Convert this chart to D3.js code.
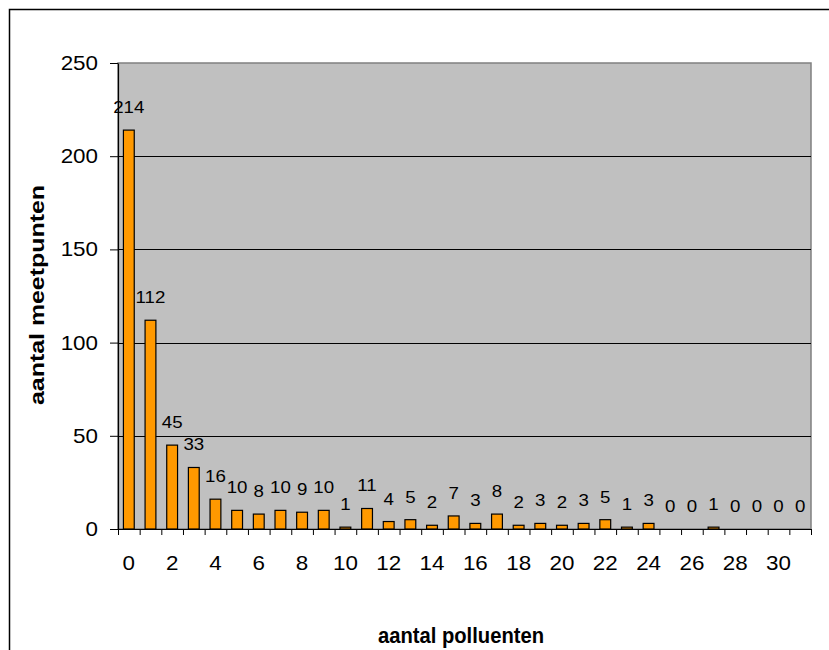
<!DOCTYPE html>
<html>
<head>
<meta charset="utf-8">
<script src="https://cdn.jsdelivr.net/npm/d3@7"></script>
<style>
  body { margin: 0; background: #fff; }
  text { font-family: "Liberation Sans", Arial, sans-serif; fill: #000; }
</style>
</head>
<body>
<svg width="829" height="650"></svg>
<script>
// aantal polluenten per meetpunt
var categories = d3.range(0, 32);
var values = [214, 112, 45, 33, 16, 10, 8, 10, 9, 10, 1, 11, 4, 5, 2, 7,
              3, 8, 2, 3, 2, 3, 5, 1, 3, 0, 0, 1, 0, 0, 0, 0];
var yTicks = [0, 50, 100, 150, 200, 250];
var xLabels = d3.range(0, 32, 2);

var data = categories.map(function(c, i) { return { cat: c, val: values[i] }; });

var svg = d3.select("svg");

// chart border (right and bottom run off the page)
svg.append("rect")
  .attr("x", 9.5).attr("y", 9.5)
  .attr("width", 840).attr("height", 660)
  .attr("fill", "#fff")
  .attr("stroke", "#000")
  .attr("stroke-width", 1.5);

var plotLeft = 118, plotTop = 63, width = 693, height = 466;

var xScale = d3.scaleBand().domain(categories).range([0, width])
  .paddingInner(0.5).paddingOuter(0.25);
var xLin = d3.scaleLinear().domain([0, 32]).range([0, width]);
var yScale = d3.scaleLinear().domain([0, 250]).range([height, 0]);

var g = svg.append("g").attr("transform", "translate(" + plotLeft + "," + plotTop + ")");

// plot area
g.append("rect")
  .attr("width", width).attr("height", height)
  .attr("fill", "#c0c0c0")
  .attr("stroke", "#808080")
  .attr("stroke-width", 1.5);

// gridlines
g.selectAll(".grid")
  .data(yTicks.filter(function(d) { return d > 0 && d < 250; }))
  .enter().append("line")
  .attr("x1", 0).attr("x2", width)
  .attr("y1", function(d) { return Math.round(yScale(d)) + 0.5; })
  .attr("y2", function(d) { return Math.round(yScale(d)) + 0.5; })
  .attr("stroke", "#000");

// bars
g.selectAll(".bar")
  .data(data.filter(function(d) { return d.val > 0; }))
  .enter().append("rect")
  .attr("class", "bar")
  .attr("x", function(d) { return xScale(d.cat); })
  .attr("y", function(d) { return yScale(d.val); })
  .attr("width", xScale.bandwidth())
  .attr("height", function(d) { return height - yScale(d.val); })
  .attr("fill", "#ff9900")
  .attr("stroke", "#000")
  .attr("stroke-width", 1.2);

// value labels
g.selectAll(".lbl")
  .data(data)
  .enter().append("text")
  .attr("class", "lbl")
  .attr("transform", function(d) {
    return "translate(" + (xScale(d.cat) + xScale.bandwidth() / 2) + "," + (yScale(d.val) - 17) + ") scale(1.1,1)";
  })
  .attr("text-anchor", "middle")
  .style("font-size", "17px")
  .text(function(d) { return d.val; });

// y axis
var yAxis = g.append("g")
  .call(d3.axisLeft(yScale).tickValues(yTicks).tickSize(8).tickSizeOuter(0));
yAxis.select(".domain").attr("stroke", "#000").attr("stroke-width", 1.2);
yAxis.selectAll("line").attr("stroke", "#000");
yAxis.selectAll("text")
  .attr("x", 0)
  .attr("transform", "translate(-20,0) scale(1.12,1)")
  .style("font-size", "20px");

// x axis: boundary ticks
var xTickAxis = g.append("g")
  .attr("transform", "translate(0," + height + ")")
  .call(d3.axisBottom(xLin).tickValues(d3.range(0, 33)).tickSize(6).tickSizeOuter(0).tickFormat(""));
xTickAxis.select(".domain").attr("stroke", "#000").attr("stroke-width", 1.2);
xTickAxis.selectAll("line").attr("stroke", "#000");

// x axis: category labels
var xAxis = g.append("g")
  .attr("transform", "translate(0," + height + ")")
  .call(d3.axisBottom(xScale).tickValues(xLabels).tickSize(0));
xAxis.select(".domain").remove();
xAxis.selectAll("text")
  .attr("y", 0).attr("dy", 0)
  .attr("transform", "translate(0,41) scale(1.12,1)")
  .style("font-size", "20px");

// axis titles
svg.append("text")
  .attr("x", 461).attr("y", 643)
  .attr("text-anchor", "middle")
  .attr("textLength", 166)
  .attr("lengthAdjust", "spacingAndGlyphs")
  .style("font-size", "22px")
  .style("font-weight", "bold")
  .text("aantal polluenten");

svg.append("text")
  .attr("transform", "translate(44,295) rotate(-90)")
  .attr("text-anchor", "middle")
  .attr("textLength", 220)
  .attr("lengthAdjust", "spacingAndGlyphs")
  .style("font-size", "21px")
  .style("font-weight", "bold")
  .text("aantal meetpunten");
</script>
</body>
</html>
